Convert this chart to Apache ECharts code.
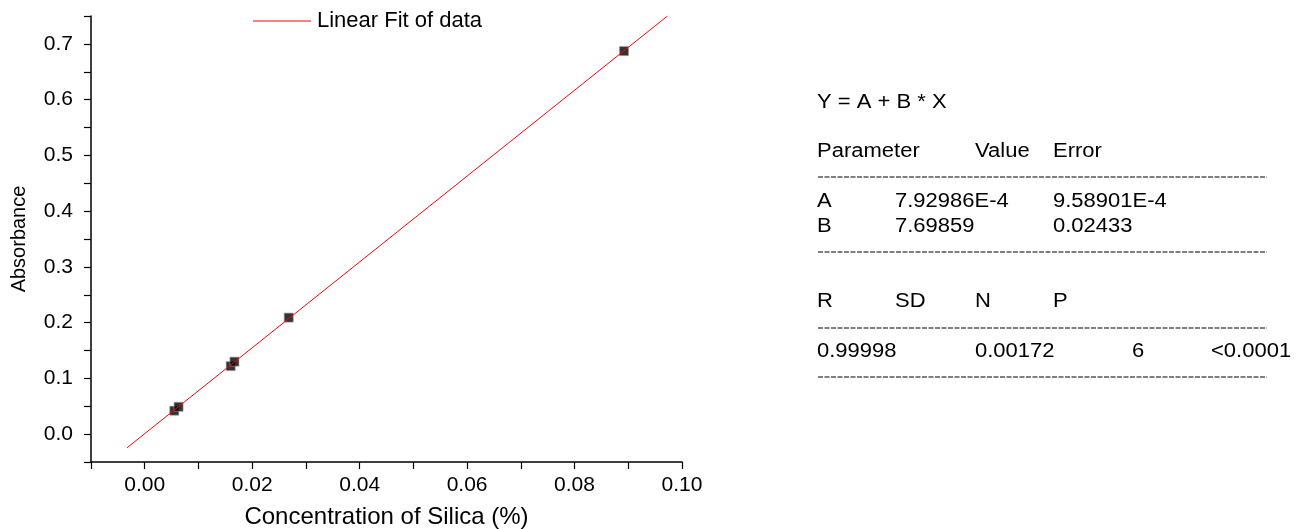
<!DOCTYPE html>
<html>
<head>
<meta charset="utf-8">
<script src="https://cdn.jsdelivr.net/npm/echarts@6/dist/echarts.min.js"></script>
<style>html,body{margin:0;padding:0;background:#fff}#c{width:1301px;height:529px}</style>
</head>
<body>
<div id="c"></div>
<script>
// Data
const silicaX = [0.0055, 0.0063, 0.0160, 0.0167, 0.0268, 0.0892];
const absorbance = [0.042, 0.049, 0.122, 0.130, 0.209, 0.687];
const fitX = [-0.0033, 0.0973];
const fitY = [-0.0246, 0.750];
const fitName = 'Linear Fit of data';
const xName = 'Concentration of Silica (%)';
const yName = 'Absorbance';
const eqText = 'Y = A + B * X';
const paramHeader = ['Parameter', 'Value', 'Error'];
const paramRows = [['A', '7.92986E-4', '9.58901E-4'], ['B', '7.69859', '0.02433']];
const statHeader = ['R', 'SD', 'N', 'P'];
const statRow = ['0.99998', '0.00172', '6', '<0.0001'];

const FONT = 'Arial, "Liberation Sans", sans-serif';
const chart = echarts.init(document.getElementById('c'));

const scatterData = silicaX.map((x, i) => [x, absorbance[i]]);
const fitData = fitX.map((x, i) => [x, fitY[i]]);

function txt(x, y, s) {
  return { type: 'text', x: x, y: y, scaleX: 1.1, scaleY: 1,
    style: { text: s, x: 0, y: 0, fontSize: 20, fontFamily: FONT, fill: '#000',
             align: 'left', verticalAlign: 'top' } };
}
function dash(y) {
  return { type: 'line', shape: { x1: 818, y1: y, x2: 1267, y2: y },
           style: { stroke: '#000', lineWidth: 1, lineDash: [5, 1.5] } };
}
const gfx = [
  txt(817, 92, eqText),
  txt(817, 141, paramHeader[0]), txt(975, 141, paramHeader[1]), txt(1053, 141, paramHeader[2]),
  dash(177),
  txt(817, 191, paramRows[0][0]), txt(895, 191, paramRows[0][1]), txt(1053, 191, paramRows[0][2]),
  txt(817, 216, paramRows[1][0]), txt(895, 216, paramRows[1][1]), txt(1053, 216, paramRows[1][2]),
  dash(252),
  txt(817, 291, statHeader[0]), txt(895, 291, statHeader[1]), txt(975, 291, statHeader[2]), txt(1053, 291, statHeader[3]),
  dash(328),
  txt(817, 341, statRow[0]), txt(975, 341, statRow[1]), txt(1132, 341, statRow[2]), txt(1211, 341, statRow[3]),
  dash(377)
];

chart.setOption({
  animation: false,
  backgroundColor: '#fff',
  textStyle: { fontFamily: FONT },
  grid: { left: 91, right: 619, top: 16, bottom: 67, containLabel: false, outerBoundsMode: 'none' },
  legend: {
    data: [{ name: fitName, icon: 'rect' }], left: 253, top: 10, padding: 0,
    itemWidth: 58, itemHeight: 1,
    itemStyle: { color: '#ff0000', borderWidth: 0 },
    textStyle: { fontSize: 22, color: '#000', fontFamily: FONT, padding: [0, 0, 0, 1] }
  },
  xAxis: {
    type: 'value', min: -0.01, max: 0.10, interval: 0.01,
    name: xName, nameLocation: 'middle', nameGap: 43,
    nameTextStyle: { fontSize: 24, color: '#000', fontFamily: FONT },
    axisLine: { onZero: false, lineStyle: { color: '#000', width: 1.5 } },
    axisTick: { length: 7, lineStyle: { color: '#000', width: 1.2 } },
    axisLabel: { fontSize: 21, color: '#000', margin: 13, fontFamily: FONT,
      formatter: v => (Math.round(v * 100) % 2 === 0 ? v.toFixed(2) : '') },
    splitLine: { show: false }
  },
  yAxis: {
    type: 'value', min: -0.05, max: 0.75, interval: 0.05,
    name: yName, nameLocation: 'middle', nameGap: 62,
    nameTextStyle: { fontSize: 20, color: '#000', fontFamily: FONT },
    axisLine: { onZero: false, lineStyle: { color: '#000', width: 1.5 } },
    axisTick: { length: 7, lineStyle: { color: '#000', width: 1.2 } },
    axisLabel: { fontSize: 21, color: '#000', margin: 18, fontFamily: FONT,
      formatter: v => (Math.round(v * 20) % 2 === 0 ? v.toFixed(1) : '') },
    splitLine: { show: false }
  },
  series: [
    { name: 'data', type: 'scatter', data: scatterData, symbol: 'rect', symbolSize: 9,
      itemStyle: { color: '#000', borderColor: '#999', borderWidth: 0.8 }, z: 3 },
    { name: fitName, type: 'line', data: fitData, symbol: 'none', clip: true,
      lineStyle: { color: '#ff0000', width: 1 }, itemStyle: { color: '#ff0000' }, z: 4 }
  ],
  graphic: gfx
});
</script>
</body>
</html>
